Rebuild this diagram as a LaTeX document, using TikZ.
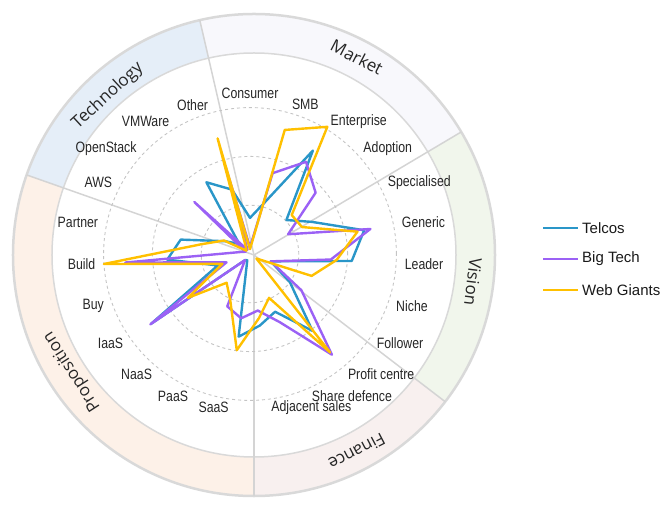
\documentclass[tikz,border=0pt]{standalone}
\usepackage{fontspec}
\setmainfont{Liberation Sans}
\newfontfamily\axisfont[FakeStretch=0.82]{Liberation Sans}
\newfontfamily\ringfont{Open Sans}
\usetikzlibrary{positioning}

\definecolor{telcosblue}{HTML}{2A96C8}
\definecolor{bigtechpurple}{HTML}{9B61F5}
\definecolor{webgold}{HTML}{FFC000}
\definecolor{ringgray}{HTML}{D9D9D9}
\definecolor{sepgray}{HTML}{D4D4D4}
\definecolor{gridgray}{HTML}{C4C4C4}
\definecolor{techfill}{HTML}{E5EEF8}
\definecolor{mktfill}{HTML}{F8F8FC}
\definecolor{visfill}{HTML}{F1F6EC}
\definecolor{finfill}{HTML}{F8F0EF}
\definecolor{propfill}{HTML}{FDF1E8}

\tikzset{
  radarline/.style={line width=2.4bp, line join=round},
  telcos/.style={radarline, draw=telcosblue},
  bigtech/.style={radarline, draw=bigtechpurple},
  webgiants/.style={radarline, draw=webgold},
  gridring/.style={draw=gridgray, line width=0.9bp, dash pattern=on 3bp off 3bp},
  sepline/.style={draw=sepgray, line width=1.5bp},
  ringedge/.style={draw=ringgray, line width=2.5bp},
  axislabel/.style={font=\axisfont\fontsize{15bp}{17bp}\selectfont, text=black!85, inner sep=0pt},
  ringlabel/.style={font=\ringfont\fontsize{17bp}{20bp}\selectfont, text=black!85, inner sep=0pt},
  legtext/.style={font=\fontsize{15bp}{18bp}\selectfont, text=black!90, inner sep=0pt, anchor=west}
}

\begin{document}
\begin{tikzpicture}[x=1bp,y=1bp]
  \useasboundingbox (-250,-253) rectangle (420,254);
  \coordinate (ring) at (4,-1);
  \foreach \a/\b/\c in {30.7/103/mktfill, 103/160.6/techfill, 160.6/270/propfill, 270/322.5/finfill, -37.5/30.7/visfill}
    \fill[\c] ([shift={(\a:241)}]ring) arc[start angle=\a, end angle=\b, radius=241bp]
      -- ([shift={(\b:202)}]ring) arc[start angle=\b, end angle=\a, radius=202bp] -- cycle;
  \draw[ringedge] (ring) circle[radius=241bp];
  \draw[ringedge, line width=1.5bp] (ring) circle[radius=202bp];
  \foreach \a in {103, 30.7, -37.5, -90, 160.6}
    \draw[sepline] (ring) -- ([shift={(\a:241)}]ring);

  \node[ringlabel, rotate=-27.5] (mktlab) at ([shift={(62.5:223)}]ring) {Market};
  \node[ringlabel, rotate=42.6] (techlab) at ([shift={(132.6:216)}]ring) {Technology};
  \node[ringlabel, rotate=-97] (vislab) at ([shift={(-7:220.7)}]ring) {Vision};
  \node[ringlabel, rotate=-152.4] (finlab) at ([shift={(-62.4:222)}]ring) {Finance};
  \node[ringlabel, rotate=122.7] (proplab) at ([shift={(-147.3:216)}]ring) {Proposition};

  \begin{scope}[x=48.8bp, y=48.8bp]
    \foreach \r in {1,2,3}
      \draw[gridring] (0,0) circle[radius=\r];
    \draw[telcos] (90:0.74) \foreach \v [count=\k] in {1.09,2.48,1.02,1.43,2.39,2.09,0.45,1.0,2.03,1.29,1.48,1.71,0.14,0.16,2.48,0.7,1.7,1.45,0.57,0.3,1.72,1.37} { -- ({90-\k*360/23}:\v) } -- cycle;
    \draw[bigtech] (90:0.14) \foreach \v [count=\k] in {1.72,2.21,1.84,0.88,2.52,1.66,0.45,1.29,2.66,1.52,1.17,1.33,1.17,0.16,2.5,0.51,2.56,0.2,0.1,1.56,0.1,1.87} { -- ({90-\k*360/23}:\v) } -- cycle;
    \draw[webgiants] (90:0.1) \foreach \v [count=\k] in {2.64,3.05,1.17,1.2,2.25,1.78,1.34,0.16,2.6,0.98,1.33,1.99,1.02,0.76,1.56,0.6,3.0,1.0,0.6,0.1,0.16,2.46} { -- ({90-\k*360/23}:\v) } -- cycle;
  \end{scope}

  \node[axislabel, anchor=south] (lab0) at (90:155) {Consumer};
  \foreach \t [count=\k] in {SMB,Enterprise,Adoption,Specialised,Generic,Leader,Niche,Follower,Profit centre,Share defence,Adjacent sales}
    \node[axislabel, anchor=west] (lab\k) at ({90-\k*360/23}:155) {\t};
  \foreach \t [count=\k from 12] in {SaaS,PaaS,NaaS,IaaS,Buy,Build,Partner,AWS,OpenStack,VMWare,Other}
    \node[axislabel, anchor=east] (lab\k) at ({90-\k*360/23}:155) {\t};

  \node[legtext] (telcoskey) at (332,26) {Telcos};
  \node[legtext] (bigtechkey) at (332,-5) {Big Tech};
  \node[legtext] (webkey) at (332,-36) {Web Giants};
  \coordinate (telcosend) at (293,26);
  \coordinate (bigtechend) at (293,-5);
  \coordinate (webend) at (293,-36);
  \draw[telcos] (telcosend) -- ([xshift=-4bp]telcoskey.west);
  \draw[bigtech] (bigtechend) -- ([xshift=-4bp]bigtechkey.west);
  \draw[webgiants] (webend) -- ([xshift=-4bp]webkey.west);
\end{tikzpicture}
\end{document}
